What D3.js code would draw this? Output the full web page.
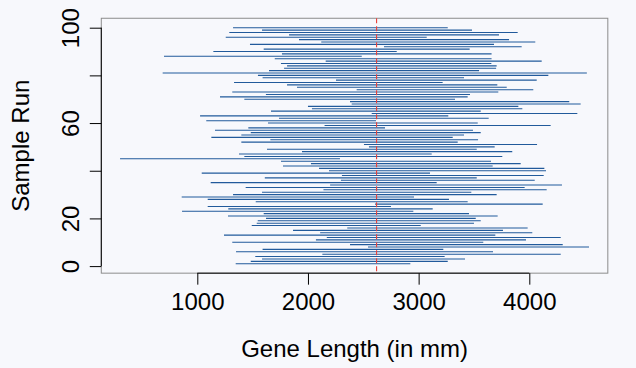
<!DOCTYPE html>
<html><head><meta charset="utf-8">
<script src="https://cdn.jsdelivr.net/npm/d3@7/dist/d3.min.js"></script>
<style>body{margin:0;background:#f7f8fc}svg{display:block}</style>
</head><body>
<svg id="c" width="636" height="368"></svg>
<script>
// Runs listed from the top of the chart (run 100) down to run 1
const runs = d3.range(100, 0, -1);
const lower = [1323,1585,1289,1829,1257,1919,2120,1476,2687,1600,
               1145,1765,699,1700,2160,1756,1811,1784,1648,687,
               1548,1590,2253,1332,1811,1901,2440,1316,1620,1205,
               1425,2380,2395,2000,2036,1666,2576,1025,1738,1081,
               1639,2150,1461,1160,1483,1398,1127,1660,1398,2506,
               2551,1630,1946,1377,1425,302,1756,2027,1774,2100,
               2190,1040,2307,1610,2298,1121,2200,1437,2140,1585,
               1323,859,1094,1528,2606,1094,1280,862,1600,1277,
               1621,1546,1537,1492,2355,1865,2110,1241,2170,2072,
               1316,2380,2542,1590,1350,2130,1524,1585,1483,1347];
const upper = [3263,3482,3895,3726,3073,3817,4054,3681,3931,3461,
               2802,3659,2486,3659,4112,3657,3705,3700,3546,4520,
               4172,3410,4067,3217,3711,3796,4036,3720,3464,3443,
               3329,4361,4464,3901,3937,3561,4434,3268,3633,2615,
               3534,4193,2696,3491,3561,3410,3308,3537,3353,4070,
               3687,3525,3846,3118,3756,2289,3654,3922,3669,4136,
               4151,3103,4130,3525,4049,3163,4295,3958,4157,3476,
               3705,2958,3274,3443,4121,2750,3127,2952,3455,3714,
               3516,3561,3500,3019,3985,3762,4027,3693,4284,3970,
               3584,4302,4540,3223,3672,4284,3235,3419,3263,2925];
const xTickValues = [1000, 2000, 3000, 4000];
const yTickValues = [0, 20, 40, 60, 80, 100];
const yTickLabels = [0, 20, 60, 100];   // 40 and 80 are not labelled
const trueMean = 2620;
const xTitle = "Gene Length (in mm)";
const yTitle = "Sample Run";

const svg = d3.select("#c");
const W = 636, H = 368;
svg.append("rect").attr("width", W).attr("height", H).attr("fill", "#f7f8fc");

const x = d3.scaleLinear().domain([1000, 4000]).range([197.3, 529.3]);
const y = d3.scaleLinear().domain([0, 100]).range([266.1, 27.7]);

const xmin = d3.min(lower), xmax = d3.max(upper);
const xr = xmax - xmin;
const xlo = xmin - 0.04 * xr, xhi = xmax + 0.04 * xr;
const ylo = 1 - 0.04 * 99, yhi = 100 + 0.04 * 99;

const bx0 = x(xlo), bx1 = x(xhi), by0 = y(yhi), by1 = y(ylo);

svg.append("rect").attr("x", bx0).attr("y", by0)
  .attr("width", bx1 - bx0).attr("height", by1 - by0)
  .attr("fill", "none").attr("stroke", "#8c8c8c").attr("stroke-width", 1);

const data = runs.map((r, i) => ({run: r, lo: lower[i], hi: upper[i]}));
svg.append("g").selectAll("line").data(data).join("line")
  .attr("x1", d => x(d.lo)).attr("x2", d => x(d.hi))
  .attr("y1", d => y(d.run)).attr("y2", d => y(d.run))
  .attr("stroke", "#215a9b").attr("stroke-width", 1.1);

svg.append("line").attr("x1", x(trueMean)).attr("x2", x(trueMean))
  .attr("y1", by0).attr("y2", by1)
  .attr("stroke", "#e8403a").attr("stroke-width", 1.1).attr("stroke-dasharray", "5,3");

const font = "Liberation Sans, Arial, Helvetica, sans-serif";
const fsTick = 24, fsTitle = 24;

const xAxis = d3.axisBottom(x).tickValues(xTickValues).tickSize(11.5).tickPadding(8).tickFormat(d3.format("d"));
const gx = svg.append("g").attr("transform", `translate(0,${by1})`).call(xAxis);
gx.select(".domain").attr("d", `M${x(1000)},0H${x(4000)}`).attr("stroke", "#000");
gx.selectAll(".tick line").attr("stroke", "#000");
gx.selectAll("text").attr("font-family", font).attr("font-size", fsTick).attr("fill", "#000");

const yAxis = d3.axisLeft(y).tickValues(yTickValues).tickSize(11.5)
  .tickFormat(d => yTickLabels.includes(d) ? String(d) : "");
const gy = svg.append("g").attr("transform", `translate(${bx0},0)`).call(yAxis);
gy.select(".domain").attr("d", `M0,${y(0)}V${y(100)}`).attr("stroke", "#000");
gy.selectAll(".tick line").attr("stroke", "#000");
gy.selectAll("text").attr("font-family", font).attr("font-size", fsTick).attr("fill", "#000")
  .attr("x", null).attr("dy", null)
  .attr("transform", `translate(-22,0) rotate(-90)`)
  .attr("text-anchor", "middle").attr("dominant-baseline", "auto");

svg.append("text").attr("x", (bx0 + bx1) / 2).attr("y", 357)
  .attr("text-anchor", "middle").attr("font-family", font).attr("font-size", fsTitle)
  .text(xTitle);
svg.append("text").attr("transform", `translate(29,${(by0 + by1) / 2}) rotate(-90)`)
  .attr("text-anchor", "middle").attr("font-family", font).attr("font-size", fsTitle)
  .text(yTitle);
</script>
</body></html>
